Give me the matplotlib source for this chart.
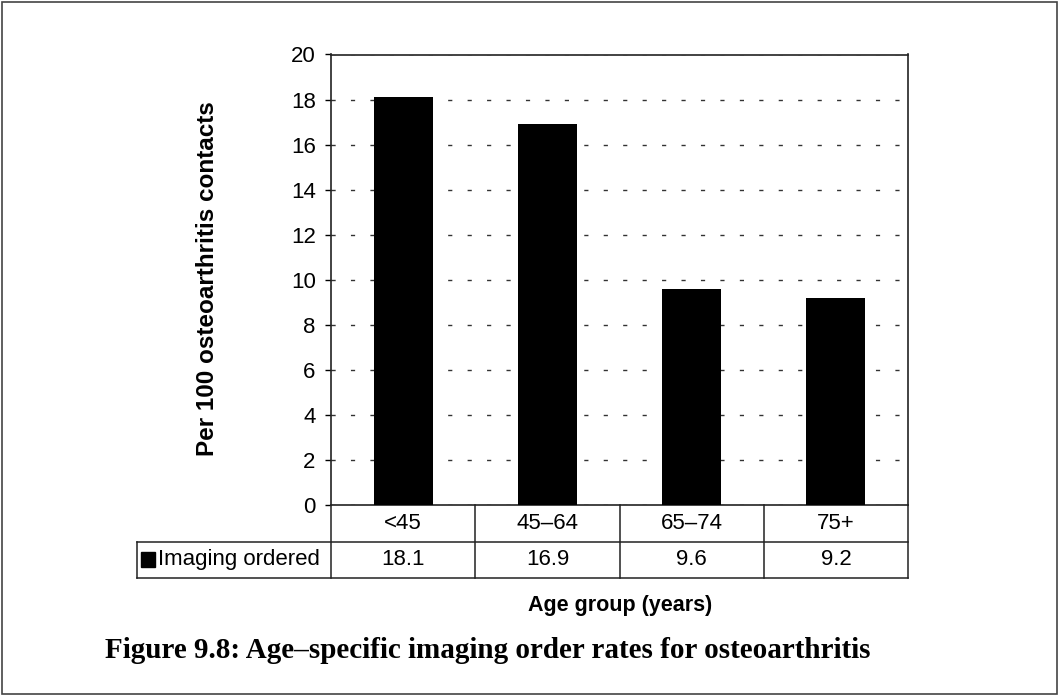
import numpy as np
import matplotlib.pyplot as plt
from matplotlib.patches import Rectangle

plt.rcParams['font.family'] = ['Liberation Sans', 'DejaVu Sans']

age_groups = ['<45', '45\u201364', '65\u201374', '75+']
imaging_ordered = [18.1, 16.9, 9.6, 9.2]
series_name = 'Imaging ordered'
y_ticks = [0, 2, 4, 6, 8, 10, 12, 14, 16, 18, 20]

W, H = 1058, 695
fig = plt.figure(figsize=(W / 100, H / 100), dpi=100)
fig.patch.set_facecolor('white')

# plot area in pixel coords
left, right, top, bottom = 331, 908, 54.5, 505
ax = fig.add_axes([left / W, 1 - bottom / H, (right - left) / W, (bottom - top) / H])

x = np.arange(len(age_groups))
ax.bar(x, imaging_ordered, width=0.41, color='black', zorder=3)
ax.set_xlim(-0.5, len(age_groups) - 0.5)
ax.set_ylim(0, 20)
ax.set_yticks(y_ticks)
ax.set_xticks([])
ax.tick_params(axis='y', direction='out', length=4, width=1, labelsize=16, pad=7)
ax.yaxis.grid(True, color='#333333', linewidth=1, dashes=(3, 11), zorder=0)
for s in ax.spines.values():
    s.set_color('#222222')
    s.set_linewidth(1.2)

fig.text(207 / W, 1 - 279 / H, 'Per 100 osteoarthritis contacts', rotation=90,
         ha='center', va='center', fontsize=17.5, fontweight='bold')

# data table under the axes
px = 1.0 / (bottom - top)  # one pixel in axes fraction (vertical)
pxx = 1.0 / (right - left)
row_h = 36.5 * px
tleft = (137 - left) * pxx
lkw = dict(color='#222222', linewidth=1.1, clip_on=False, transform=ax.transAxes)
ax.plot([1, 1], [0, -2 * row_h], **lkw)
ax.plot([tleft, 1], [-row_h, -row_h], **lkw)
ax.plot([tleft, 1], [-2 * row_h, -2 * row_h], **lkw)
ax.plot([tleft, tleft], [-row_h, -2 * row_h], **lkw)
ax.plot([0, 0], [0, -2 * row_h], **lkw)
for i in range(1, len(age_groups)):
    xb = i / len(age_groups)
    ax.plot([xb, xb], [0, -2 * row_h], **lkw)

trans = ax.get_xaxis_transform()
for i, (g, v) in enumerate(zip(age_groups, imaging_ordered)):
    ax.text(i, -0.5 * row_h, g, transform=trans, ha='center', va='center', fontsize=16)
    ax.text(i, -1.5 * row_h, f'{v:.1f}', transform=trans, ha='center', va='center', fontsize=16)

sq = 15 * px
ax.add_patch(Rectangle((tleft + 4 * pxx, -1.5 * row_h - sq / 2), 14 * pxx, sq,
                       transform=ax.transAxes, color='black', clip_on=False))
ax.text(tleft + 21 * pxx, -1.5 * row_h, series_name, transform=ax.transAxes,
        ha='left', va='center', fontsize=16)

fig.text(620 / W, 1 - 606 / H, 'Age group (years)', ha='center', va='center',
         fontsize=15.5, fontweight='bold')
fig.text(105 / W, 1 - 650 / H, 'Figure 9.8: Age\u2013specific imaging order rates for osteoarthritis',
         ha='left', va='center', fontsize=21, fontweight='bold', family=['Liberation Serif', 'DejaVu Serif'])

# outer frame
fig.add_artist(Rectangle((1.5 / W, 1.5 / H), (W - 3) / W, (H - 3) / H, transform=fig.transFigure,
                         fill=False, edgecolor='#444444', linewidth=1.2))

fig.savefig('out.png', dpi=100)
